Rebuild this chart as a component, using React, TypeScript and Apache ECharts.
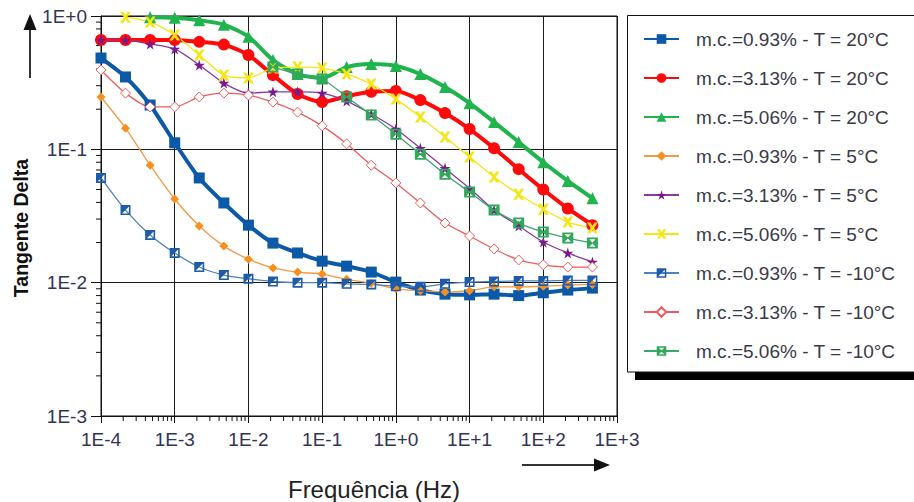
import React, { useEffect, useRef } from "react";
import * as echarts from "echarts";

const FONT = "'Liberation Sans', Arial, sans-serif";

// Frequencies (Hz)
const freq = [0.0001, 0.000215, 0.000464, 0.001, 0.00215, 0.00464, 0.01, 0.0215, 0.0464, 0.1, 0.215, 0.464, 1, 2.15, 4.64, 10, 21.5, 46.4, 100, 215, 464];

// Tangente Delta values
const mc093_20 = [0.484, 0.349, 0.215, 0.112, 0.061, 0.0396, 0.027, 0.0198, 0.0167, 0.0145, 0.0133, 0.012, 0.0101, 0.0088, 0.0082, 0.0081, 0.0082, 0.008, 0.0084, 0.0088, 0.0091];
const mc313_20 = [0.66, 0.66, 0.66, 0.66, 0.64, 0.61, 0.51, 0.36, 0.26, 0.226, 0.25, 0.27, 0.274, 0.234, 0.187, 0.142, 0.102, 0.071, 0.05, 0.036, 0.027];
const mc506_20 = [null, null, 0.98, 0.97, 0.93, 0.86, 0.7, 0.468, 0.367, 0.343, 0.414, 0.436, 0.422, 0.367, 0.293, 0.222, 0.16, 0.1135, 0.08, 0.058, 0.043];
const mc093_5 = [0.247, 0.144, 0.076, 0.0424, 0.0266, 0.0188, 0.015, 0.0129, 0.012, 0.0116, 0.0106, 0.0099, 0.009, 0.0087, 0.0085, 0.0087, 0.0093, 0.0093, 0.0094, 0.0096, 0.0097];
const mc313_5 = [0.66, 0.66, 0.617, 0.566, 0.429, 0.314, 0.264, 0.27, 0.27, 0.264, 0.23, 0.184, 0.142, 0.102, 0.072, 0.051, 0.035, 0.0266, 0.0202, 0.0167, 0.0143];
const mc506_5 = [null, 0.98, 0.9, 0.72, 0.51, 0.36, 0.343, 0.407, 0.414, 0.407, 0.367, 0.309, 0.238, 0.175, 0.124, 0.0875, 0.062, 0.046, 0.0356, 0.0285, 0.0257];
const mc093_m10 = [0.061, 0.035, 0.0228, 0.0167, 0.0131, 0.0114, 0.0107, 0.0102, 0.01, 0.01, 0.0098, 0.0097, 0.0094, 0.0093, 0.0098, 0.0101, 0.0102, 0.0103, 0.0103, 0.0104, 0.0104];
const mc313_m10 = [0.394, 0.264, 0.208, 0.208, 0.247, 0.264, 0.255, 0.226, 0.19, 0.15, 0.11, 0.076, 0.056, 0.0396, 0.028, 0.0224, 0.0179, 0.0148, 0.0136, 0.0131, 0.0131];
const mc506_m10 = [null, null, null, null, null, null, null, 0.414, 0.367, 0.337, 0.247, 0.181, 0.13, 0.092, 0.065, 0.0478, 0.035, 0.028, 0.024, 0.0216, 0.0198];

const seriesNames = [
  "m.c.=0.93% - T = 20°C",
  "m.c.=3.13% - T = 20°C",
  "m.c.=5.06% - T = 20°C",
  "m.c.=0.93% - T = 5°C",
  "m.c.=3.13% - T = 5°C",
  "m.c.=5.06% - T = 5°C",
  "m.c.=0.93% - T = -10°C",
  "m.c.=3.13% - T = -10°C",
  "m.c.=5.06% - T = -10°C",
];

// Axis decades and minor tick multipliers
const xDecades = [-4, -3, -2, -1, 0, 1, 2];
const yDecades = [-3, -2, -1];
const minorMult = [2, 3, 4, 5, 6, 7, 8, 9];

const STAR = "path://M50 0 L61 35 L98 35 L68 57 L79 91 L50 70 L21 91 L32 57 L2 35 L39 35 Z";
const XMARK = "path://M0 0 L3 0 L5 3 L7 0 L10 0 L6.5 5 L10 10 L7 10 L5 7 L3 10 L0 10 L3.5 5 Z";
const HALFSQ = "path://M0 0 L10 0 L10 10 L0 10 Z M1.6 1.6 L1.6 8.4 L8.4 8.4 L8.4 1.6 Z M0 0 L10 0 L0 10 Z";
const BOXX = "path://M0 0 L10 0 L10 10 L0 10 Z M2.2 1.6 L5 4.6 L7.8 1.6 Z M2.2 8.4 L7.8 8.4 L5 5.4 Z";

function pairs(vals: (number | null)[]) {
  return freq.map((f, i) => [f, vals[i] == null ? "-" : vals[i]]);
}

function lineSeries(name: string, vals: (number | null)[], color: string, symbol: string, size: number, width: number, extra: any = {}) {
  return {
    name,
    type: "line",
    data: pairs(vals),
    symbol,
    symbolSize: size,
    smooth: 0.25,
    connectNulls: false,
    lineStyle: { color: extra.lineColor || color, width },
    itemStyle: { color: extra.fill || color, borderColor: extra.border || color, borderWidth: extra.borderWidth || 0 },
    emphasis: { disabled: true },
  };
}

export default function App() {
  const ref = useRef<HTMLDivElement>(null);
  useEffect(() => {
    if (!ref.current) return;
    const chart = echarts.init(ref.current, null, { renderer: "svg" });

    const xMinor: number[][] = [];
    xDecades.forEach((d) => minorMult.forEach((m) => xMinor.push([m * Math.pow(10, d), 0.001])));
    const yMinor: number[][] = [];
    yDecades.forEach((d) => minorMult.forEach((m) => yMinor.push([0.0001, m * Math.pow(10, d)])));

    const fmt = (v: number) => {
      const e = Math.round(Math.log10(v));
      return "1E" + (e >= 0 ? "+" : "") + e;
    };

    chart.setOption({
      animation: false,
      textStyle: { fontFamily: FONT },
      grid: { left: 101, top: 16, width: 516, height: 400, show: true, borderColor: "#111", borderWidth: 1, backgroundColor: "transparent" },
      xAxis: {
        type: "log",
        logBase: 10,
        min: 0.0001,
        max: 1000,
        splitNumber: 7,
        axisLine: { lineStyle: { color: "#111", width: 1 } },
        axisTick: { length: 7, lineStyle: { color: "#111" } },
        axisLabel: { formatter: fmt, fontSize: 19, color: "#33335a", margin: 14, fontFamily: FONT },
        splitLine: { show: true, lineStyle: { color: "#1a1a1a", width: 1 } },
      },
      yAxis: {
        type: "log",
        logBase: 10,
        min: 0.001,
        max: 1,
        splitNumber: 3,
        axisLine: { lineStyle: { color: "#111", width: 1 } },
        axisTick: { length: 10, lineStyle: { color: "#111" } },
        axisLabel: { formatter: fmt, fontSize: 19, color: "#33335a", margin: 14, fontFamily: FONT },
        splitLine: { show: true, lineStyle: { color: "#1a1a1a", width: 1 } },
      },
      legend: {
        orient: "vertical",
        left: 643,
        top: 29,
        padding: 0,
        itemWidth: 35,
        itemHeight: 12,
        itemGap: 19,
        data: seriesNames,
        textStyle: { fontSize: 19, color: "#3a3a48", fontFamily: FONT, lineHeight: 20, padding: [0, 0, 0, 12] },
      },
      graphic: [
        { type: "rect", z: 0, shape: { x: 635, y: 372, width: 300, height: 8 }, style: { fill: "#000" } },
        { type: "rect", z: 0, shape: { x: 627.5, y: 15.5, width: 300, height: 356.5 }, style: { fill: "#fff", stroke: "#111", lineWidth: 1 } },
        { type: "line", shape: { x1: 30, y1: 78, x2: 30, y2: 28 }, style: { stroke: "#333", lineWidth: 2 } },
        { type: "polygon", shape: { points: [[30, 14], [23.5, 30], [36.5, 30]] }, style: { fill: "#111" } },
        { type: "line", shape: { x1: 522, y1: 465, x2: 596, y2: 465 }, style: { stroke: "#333", lineWidth: 2 } },
        { type: "polygon", shape: { points: [[610, 465], [594, 458.5], [594, 471.5]] }, style: { fill: "#111" } },
        {
          type: "text",
          x: 21,
          y: 228,
          rotation: Math.PI / 2,
          style: {
            text: "Tangente Delta",
            fontSize: 19.5,
            fontWeight: "bold",
            fontFamily: FONT,
            fill: "#111",
            align: "center",
            verticalAlign: "middle",
          },
        },
        {
          type: "text",
          x: 374,
          y: 489,
          style: {
            text: "Frequência (Hz)",
            fontSize: 24,
            fontFamily: FONT,
            fill: "#222",
            align: "center",
            verticalAlign: "middle",
          },
        },
      ],
      series: [
        {
          type: "custom",
          silent: true,
          clip: false,
          data: xMinor,
          encode: { x: 0, y: 1 },
          renderItem: (params: any, api: any) => {
            const p = api.coord([api.value(0), api.value(1)]);
            return { type: "line", shape: { x1: p[0], y1: p[1], x2: p[0], y2: p[1] + 5 }, style: { stroke: "#111", lineWidth: 1 } };
          },
        },
        {
          type: "custom",
          silent: true,
          clip: false,
          data: yMinor,
          encode: { x: 0, y: 1 },
          renderItem: (params: any, api: any) => {
            const p = api.coord([api.value(0), api.value(1)]);
            return { type: "line", shape: { x1: p[0] - 5, y1: p[1], x2: p[0], y2: p[1] }, style: { stroke: "#111", lineWidth: 1 } };
          },
        },
        lineSeries(seriesNames[0], mc093_20, "#0c59a8", "rect", 11, 4),
        lineSeries(seriesNames[1], mc313_20, "#ff0a0a", "circle", 12, 4),
        lineSeries(seriesNames[2], mc506_20, "#1fb44c", "triangle", 12, 4),
        lineSeries(seriesNames[3], mc093_5, "#f7901e", "diamond", 9, 1.3, { lineColor: "#f49a45" }),
        lineSeries(seriesNames[4], mc313_5, "#7a1a8c", STAR, 11, 1.3, { lineColor: "#8a3aa0" }),
        lineSeries(seriesNames[5], mc506_5, "#f5e617", XMARK, 11, 1.3),
        lineSeries(seriesNames[6], mc093_m10, "#1e5cab", HALFSQ, 10, 1.3, { lineColor: "#4f80c0" }),
        lineSeries(seriesNames[7], mc313_m10, "#f25b5b", "diamond", 10, 1.3, { fill: "#ffffff", border: "#f25b5b", borderWidth: 1 }),
        lineSeries(seriesNames[8], mc506_m10, "#33a85c", BOXX, 11, 1.3, { lineColor: "#3aa86a" }),
      ],
    });
    return () => chart.dispose();
  }, []);
  return <div ref={ref} style={{ position: "fixed", left: 0, top: 0, width: 914, height: 502, background: "#fff" }} />;
}
